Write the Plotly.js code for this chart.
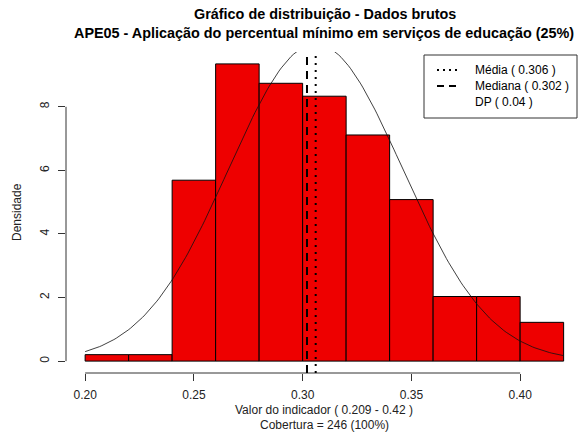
<!DOCTYPE html>
<html><head><meta charset="utf-8">
<script src="https://cdn.plot.ly/plotly-3.0.1.min.js"></script>
<style>html,body{margin:0;padding:0;background:#fff;}#chart{width:579px;height:436px;}</style>
</head><body><div id="chart"></div>
<script>
// Data
const breaks = [0.20,0.22,0.24,0.26,0.28,0.30,0.32,0.34,0.36,0.38,0.40,0.42];
const counts = [1,1,28,46,43,41,35,25,10,10,6];
const nTotal = 246;
const meanVal = 0.306;
const medianVal = 0.302;
const sdVal = 0.04;
const xTicks = [0.20,0.25,0.30,0.35,0.40];
const xTickLabels = ["0.20","0.25","0.30","0.35","0.40"];
const yTicks = [0,2,4,6,8];
const yTickLabels = ["0","2","4","6","8"];
const titleLine1 = "Gráfico de distribuição - Dados brutos";
const titleLine2 = "APE05 - Aplicação do percentual mínimo em serviços de educação (25%)";
const xLabel1 = "Valor do indicador ( 0.209 - 0.42 )";
const xLabel2 = "Cobertura = 246 (100%)";
const yLabel = "Densidade";
const legendLabels = ["Média ( 0.306 )","Mediana ( 0.302 )","DP ( 0.04 )"];

// layout geometry (pixels)
const W=579,H=436, L=66, R=0, T=52, B=63;
const pw=W-L-R, ph=H-T-B;
const px=x=>(x-L)/pw, py=y=>(H-B-y)/ph;

const widths = counts.map((c,i)=>breaks[i+1]-breaks[i]);
const centers = counts.map((c,i)=>(breaks[i]+breaks[i+1])/2);
const dens = counts.map((c,i)=>c/(nTotal*widths[i]));

// normal curve over the histogram range
const cx=[], cy=[];
const x0=breaks[0], x1=breaks[breaks.length-1];
for(let k=0;k<=200;k++){
  const x=x0+(x1-x0)*k/200;
  cx.push(x);
  cy.push(Math.exp(-0.5*Math.pow((x-meanVal)/sdVal,2))/(sdVal*Math.sqrt(2*Math.PI)));
}

const font="Liberation Sans, Arial, sans-serif";
const traces=[
  {type:'bar',x:centers,y:dens,width:widths,marker:{color:'#EE0000',line:{color:'#000',width:1}},hoverinfo:'skip',showlegend:false},
  {type:'scatter',mode:'lines',x:cx,y:cy,line:{color:'#111',width:0.8},hoverinfo:'skip',showlegend:false}
];

const shapes=[
  {type:'line',xref:'x',yref:'paper',x0:xTicks[0],x1:xTicks[xTicks.length-1],y0:0,y1:0,line:{color:'#333',width:1}},
  {type:'line',xref:'paper',yref:'y',x0:0,x1:0,y0:yTicks[0],y1:yTicks[yTicks.length-1],line:{color:'#333',width:1}},
  {type:'line',xref:'x',yref:'paper',x0:meanVal,x1:meanVal,y0:0,y1:1,line:{color:'#000',width:2,dash:'2px,5px'}},
  {type:'line',xref:'x',yref:'paper',x0:medianVal,x1:medianVal,y0:0,y1:1,line:{color:'#000',width:2,dash:'8px,6px'}},
  // legend box
  {type:'rect',xref:'paper',yref:'paper',x0:px(424),x1:px(577),y0:py(118),y1:py(55),line:{color:'#333',width:1},fillcolor:'#fff',layer:'above'},
  {type:'line',xref:'paper',yref:'paper',x0:px(437),x1:px(458),y0:py(70),y1:py(70),line:{color:'#000',width:2,dash:'2px,4px'},layer:'above'},
  {type:'line',xref:'paper',yref:'paper',x0:px(437),x1:px(458),y0:py(86),y1:py(86),line:{color:'#000',width:2,dash:'7px,5px'},layer:'above'}
];

const annotations=[
  {text:'<b>'+titleLine1+'</b>',xref:'paper',yref:'paper',x:px(325),y:py(14),showarrow:false,font:{family:font,size:14.4,color:'#000'},xanchor:'center',yanchor:'middle'},
  {text:'<b>'+titleLine2+'</b>',xref:'paper',yref:'paper',x:px(324),y:py(33),showarrow:false,font:{family:font,size:14.4,color:'#000'},xanchor:'center',yanchor:'middle'},
  {text:xLabel1,xref:'paper',yref:'paper',x:px(324),y:py(410),showarrow:false,font:{family:font,size:12,color:'#222'},xanchor:'center',yanchor:'middle'},
  {text:xLabel2,xref:'paper',yref:'paper',x:px(324),y:py(425),showarrow:false,font:{family:font,size:12,color:'#222'},xanchor:'center',yanchor:'middle'},
  {text:yLabel,xref:'paper',yref:'paper',x:px(17),y:py(212),showarrow:false,textangle:-90,font:{family:font,size:12,color:'#222'},xanchor:'center',yanchor:'middle'}
];
legendLabels.forEach((t,i)=>{
  annotations.push({text:t,xref:'paper',yref:'paper',x:px(473),y:py(70+16*i),showarrow:false,font:{family:font,size:12,color:'#000'},xanchor:'left',yanchor:'middle'});
});

const layout={
  width:W,height:H,margin:{l:L,r:R,t:T,b:B,pad:0},
  paper_bgcolor:'#fff',plot_bgcolor:'#fff',bargap:0,showlegend:false,
  font:{family:font,size:12,color:'#222'},
  xaxis:{range:[0.1912,0.1912+pw/2175],tickvals:xTicks,ticktext:xTickLabels,ticks:'outside',ticklen:7,tickcolor:'#333',tickwidth:1,ticklabelstandoff:4,
    showline:false,showgrid:false,zeroline:false,tickfont:{family:font,size:12,color:'#222'},fixedrange:true},
  yaxis:{range:[-0.374,9.724],tickvals:yTicks,ticktext:yTickLabels,ticks:'outside',ticklen:7,tickcolor:'#333',tickwidth:1,tickangle:-90,ticklabelstandoff:4,
    showline:false,showgrid:false,zeroline:false,tickfont:{family:font,size:12,color:'#222'},fixedrange:true},
  shapes:shapes,annotations:annotations
};
Plotly.newPlot('chart',traces,layout,{staticPlot:true,displayModeBar:false});
</script></body></html>
